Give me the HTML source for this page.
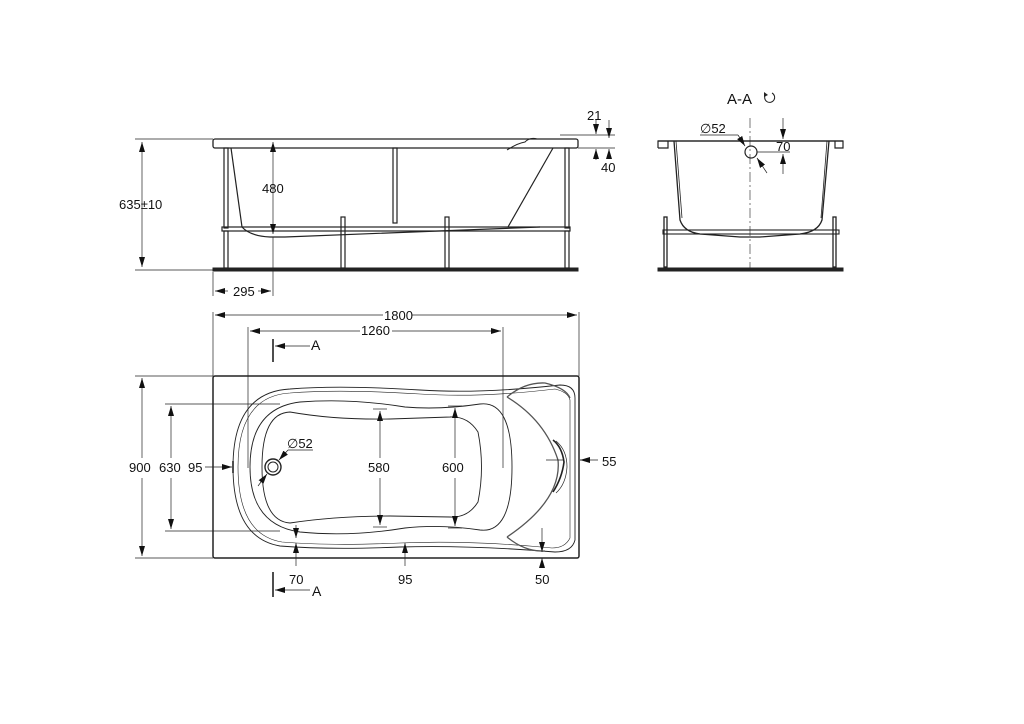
<!DOCTYPE html>
<html><head><meta charset="utf-8"><style>
html,body{margin:0;padding:0;background:#fff;}
svg{display:block}
text{font-family:"Liberation Sans",sans-serif;font-size:13px;fill:#111}
</style></head><body>
<svg width="1024" height="724" viewBox="0 0 1024 724" xmlns="http://www.w3.org/2000/svg">
<defs>
<marker id="a" viewBox="0 0 10 6" refX="10" refY="3" markerWidth="10" markerHeight="6" orient="auto-start-reverse" markerUnits="userSpaceOnUse"><path d="M0,0 L10,3 L0,6z" fill="#111"/></marker>
</defs>
<g fill="none" stroke="#222" stroke-width="1">
<!-- SIDE VIEW -->
<rect x="213" y="139" width="365" height="9" rx="2" stroke-width="1.3"/>
<rect x="213" y="268" width="365" height="3" fill="#222"/>
<rect x="222" y="227" width="348" height="4" stroke-width="1.2"/>
<g stroke-width="1.2">
<rect x="224" y="148" width="4" height="80"/><rect x="224" y="231" width="4" height="37"/>
<rect x="393" y="148" width="4" height="75"/>
<rect x="565" y="148" width="4" height="80"/><rect x="565" y="231" width="4" height="37"/>
<rect x="341" y="217" width="4" height="51"/>
<rect x="445" y="217" width="4" height="51"/>
</g>
<path d="M231,148 L242,227 Q250,236 270,237 L285,237 L540,227" stroke-width="1.2"/>
<path d="M553,148 L508,227" stroke-width="1.2"/>
<path d="M507,150 Q518,143 525,142 Q530,137 537,139" stroke-width="1"/>
<g stroke-width="0.7">
<line x1="135" y1="139" x2="213" y2="139"/><line x1="135" y1="270" x2="213" y2="270"/>
<line x1="142" y1="142" x2="142" y2="267" marker-start="url(#a)" marker-end="url(#a)"/>
<line x1="273" y1="142" x2="273" y2="234" marker-start="url(#a)" marker-end="url(#a)"/>
<line x1="213" y1="272" x2="213" y2="296"/><line x1="273" y1="237" x2="273" y2="296"/>
<line x1="215" y1="291" x2="228" y2="291" marker-start="url(#a)"/><line x1="258" y1="291" x2="271" y2="291" marker-end="url(#a)"/>
<line x1="560" y1="135" x2="615" y2="135"/><line x1="578" y1="148" x2="615" y2="148"/>
<line x1="596" y1="120" x2="596" y2="134" marker-end="url(#a)"/><line x1="596" y1="149" x2="596" y2="160" marker-start="url(#a)"/>
<line x1="609" y1="120" x2="609" y2="138" marker-end="url(#a)"/><line x1="609" y1="149" x2="609" y2="157" marker-start="url(#a)"/>
</g>
<!-- SECTION -->
<path d="M658,148 L658,141 L843,141 L843,148 L835,148 L835,141 M658,148 L668,148 L668,141" stroke-width="1.2"/>
<line x1="658" y1="141" x2="843" y2="141" stroke-width="1.3"/>
<path d="M674,141 L680,220 Q684,232 700,234 L740,237 L760,237 L800,234 Q818,232 822,220 L829,141" stroke-width="1.3"/>
<path d="M676,141 L682,218" stroke-width="0.8"/><path d="M827,141 L821,218" stroke-width="0.8"/>
<rect x="663" y="230" width="176" height="4" stroke-width="1.1"/>
<rect x="664" y="217" width="3" height="50" stroke-width="1.3"/><rect x="833" y="217" width="3" height="50" stroke-width="1.3"/>
<rect x="658" y="268" width="185" height="3" fill="#222"/>
<line x1="750" y1="118" x2="750" y2="268" stroke-width="0.6" stroke-dasharray="10,3,2,3"/>
<circle cx="751" cy="152" r="6" stroke-width="1.2"/>
<g stroke-width="0.7">
<line x1="700" y1="135" x2="738" y2="135"/><line x1="738" y1="135" x2="745" y2="146" marker-end="url(#a)"/>
<line x1="757" y1="158" x2="767" y2="173" marker-start="url(#a)"/>
<line x1="757" y1="152" x2="790" y2="152"/>
<line x1="783" y1="118" x2="783" y2="139" marker-end="url(#a)"/><line x1="783" y1="154" x2="783" y2="174" marker-start="url(#a)"/>
</g>
<path d="M766,94 A5,5 0 1 0 772,93" stroke-width="1"/>
<path d="M764,92 L768,95 L764,97z" fill="#222" stroke="none"/>
<!-- PLAN -->
<rect x="213" y="376" width="366" height="182" rx="2" stroke-width="1.5"/>
<path d="M290,389 Q340,385 420,390 Q480,394 560,385 Q575,385 575,398 L575,540 Q572,552 555,552 Q470,545 400,547 Q330,550 280,546 Q233,538 233,467 Q233,392 290,389Z" stroke-width="0.9"/>
<path d="M290,393 Q340,389 420,394 Q480,398 555,389 Q568,392 570,400 L570,538 Q565,548 552,548 Q470,540 400,543 Q330,546 282,542 Q238,535 238,467 Q238,396 290,393Z" stroke-width="0.6"/>
<path d="M300,402 Q350,398 405,407 Q440,410 480,404 Q512,400 512,467 Q512,534 480,530 Q440,524 405,528 Q350,537 300,532 Q250,525 250,467 Q250,408 300,402Z" stroke-width="0.9"/>
<path d="M290,412 Q335,420 390,419 L450,417 Q468,416 478,432 Q485,467 478,502 Q468,518 450,517 L390,516 Q335,516 290,523 Q262,521 262,467 Q262,413 290,412Z" stroke-width="0.9"/>
<path d="M507,397 Q525,382 545,383 Q566,388 570,398" stroke-width="1.3" stroke="#555"/>
<path d="M507,397 Q545,420 558,460 Q562,500 507,537" stroke-width="1.3" stroke="#555"/>
<path d="M507,537 Q525,552 545,551" stroke-width="1.3" stroke="#555"/>
<path d="M553,440 Q562,447 564,462 Q562,478 553,492" stroke-width="1.6"/>
<path d="M556,441 Q567,450 567,467 Q566,484 556,493" stroke-width="0.7"/>
<circle cx="273" cy="467" r="8" stroke-width="1.4"/><circle cx="273" cy="467" r="5" stroke-width="1"/>
<g stroke-width="0.7">
<line x1="213" y1="312" x2="213" y2="376"/><line x1="579" y1="312" x2="579" y2="376"/>
<line x1="215" y1="315" x2="383" y2="315" marker-start="url(#a)"/><line x1="412" y1="315" x2="577" y2="315" marker-end="url(#a)"/>
<line x1="248" y1="327" x2="248" y2="468"/><line x1="503" y1="327" x2="503" y2="468"/>
<line x1="250" y1="331" x2="360" y2="331" marker-start="url(#a)"/><line x1="392" y1="331" x2="501" y2="331" marker-end="url(#a)"/>
<line x1="135" y1="376" x2="213" y2="376"/><line x1="135" y1="558" x2="213" y2="558"/>
<line x1="142" y1="378" x2="142" y2="458" marker-start="url(#a)"/><line x1="142" y1="478" x2="142" y2="556" marker-end="url(#a)"/>
<line x1="165" y1="404" x2="280" y2="404"/><line x1="165" y1="531" x2="280" y2="531"/>
<line x1="171" y1="406" x2="171" y2="458" marker-start="url(#a)"/><line x1="171" y1="478" x2="171" y2="529" marker-end="url(#a)"/>
<line x1="205" y1="467" x2="232" y2="467" marker-end="url(#a)"/>
<line x1="380" y1="411" x2="380" y2="458" marker-start="url(#a)"/><line x1="380" y1="478" x2="380" y2="525" marker-end="url(#a)"/>
<line x1="373" y1="409" x2="387" y2="409"/><line x1="373" y1="527" x2="387" y2="527"/>
<line x1="455" y1="408" x2="455" y2="458" marker-start="url(#a)"/><line x1="455" y1="478" x2="455" y2="526" marker-end="url(#a)"/>
<line x1="448" y1="406" x2="462" y2="406"/><line x1="448" y1="528" x2="462" y2="528"/>
<line x1="296" y1="525" x2="296" y2="538" marker-end="url(#a)"/><line x1="296" y1="543" x2="296" y2="566" marker-start="url(#a)"/>
<line x1="405" y1="543" x2="405" y2="566" marker-start="url(#a)"/>
<line x1="542" y1="528" x2="542" y2="552" marker-end="url(#a)"/><line x1="542" y1="558" x2="542" y2="567" marker-start="url(#a)"/>
<line x1="546" y1="460" x2="564" y2="460"/><line x1="580" y1="460" x2="598" y2="460"/><line x1="590" y1="460" x2="580" y2="460" marker-end="url(#a)"/>
<line x1="288" y1="450" x2="313" y2="450"/><line x1="288" y1="450" x2="279" y2="460" marker-end="url(#a)"/>
<line x1="267" y1="474" x2="258" y2="486" marker-start="url(#a)"/>
</g>
<line x1="233" y1="461" x2="233" y2="473" stroke-width="1.6"/>
<line x1="273" y1="339" x2="273" y2="362" stroke-width="1.6"/>
<line x1="310" y1="346" x2="275" y2="346" stroke-width="0.8" marker-end="url(#a)"/>
<line x1="273" y1="572" x2="273" y2="597" stroke-width="1.6"/>
<line x1="310" y1="590" x2="275" y2="590" stroke-width="0.8" marker-end="url(#a)"/>
</g>
<text x="119" y="209">635±10</text>
<text x="262" y="193">480</text>
<text x="233" y="296">295</text>
<text x="587" y="120">21</text>
<text x="601" y="172">40</text>
<text x="727" y="104" style="font-size:15px">A-A</text>
<text x="700" y="133">∅52</text>
<text x="776" y="151">70</text>
<text x="384" y="320">1800</text>
<text x="361" y="335">1260</text>
<text x="311" y="350" style="font-size:14px">A</text>
<text x="312" y="596" style="font-size:14px">A</text>
<text x="129" y="472">900</text>
<text x="159" y="472">630</text>
<text x="188" y="472">95</text>
<text x="287" y="448">∅52</text>
<text x="368" y="472">580</text>
<text x="442" y="472">600</text>
<text x="602" y="466">55</text>
<text x="289" y="584">70</text>
<text x="398" y="584">95</text>
<text x="535" y="584">50</text>
</svg>
</body></html>
